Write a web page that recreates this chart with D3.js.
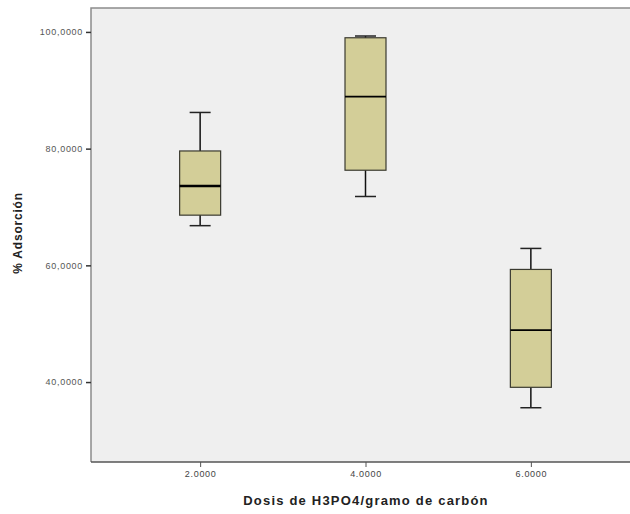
<!DOCTYPE html>
<html>
<head>
<meta charset="utf-8">
<script src="https://cdn.jsdelivr.net/npm/d3@7"></script>
<style>
  body { margin: 0; background: #fff; }
  svg { display: block; font-family: "Liberation Sans", Arial, sans-serif; }
</style>
</head>
<body>
<script>
// dose groups and the five-number summaries
var doses = ['2.0000', '4.0000', '6.0000'];
var mins = [66.8, 71.8, 35.6];
var q1s = [68.6, 76.3, 39.1];
var medians = [73.6, 88.9, 48.9];
var q3s = [79.6, 99.0, 59.3];
var maxs = [86.2, 99.3, 62.9];
var yTicks = [40, 60, 80, 100];

var width = 630,
    height = 514,
    plot = {left: 91, top: 8, right: 640, bottom: 462};

var x = d3.scalePoint().domain(doses).range([plot.left, plot.right]).padding(0.66),
    y = d3.scaleLinear().domain([26.3, 104.1]).range([plot.bottom, plot.top]);

var boxW = 41, capW = 21;

var data = doses.map(function (d, i) {
    return {dose: d, min: mins[i], q1: q1s[i], med: medians[i], q3: q3s[i], max: maxs[i]};
});

var svg = d3.select('body').append('svg')
    .attr('width', width)
    .attr('height', height);

svg.append('rect')
    .attr('x', plot.left)
    .attr('y', plot.top)
    .attr('width', plot.right - plot.left)
    .attr('height', plot.bottom - plot.top)
    .attr('fill', '#efefef');

// frame: top and left lines only as in the picture, bottom via axis
svg.append('path')
    .attr('d', 'M' + plot.left + ',' + plot.bottom + 'V' + plot.top + 'H' + width)
    .attr('fill', 'none')
    .attr('stroke', '#8c8c8c')
    .attr('stroke-width', 1.5);

var axisY = svg.append('g')
    .attr('transform', 'translate(' + plot.left + ',0)')
    .call(d3.axisLeft(y).tickValues(yTicks).tickSize(5).tickPadding(3)
        .tickFormat(function (d) { return d + ',0000'; }));
axisY.select('.domain').remove();
axisY.selectAll('line').attr('stroke', '#333').attr('stroke-width', 1.5);
axisY.selectAll('text').attr('fill', '#555')
    .style('font-size', '9px').style('letter-spacing', '0.7px');

var axisX = svg.append('g')
    .attr('transform', 'translate(0,' + plot.bottom + ')')
    .call(d3.axisBottom(x).tickSize(5).tickPadding(4));
axisX.select('.domain').attr('stroke', '#555').attr('stroke-width', 1.5)
    .attr('d', 'M' + plot.left + ',0H' + width);
axisX.selectAll('line').attr('stroke', '#555');
axisX.selectAll('text').attr('fill', '#444')
    .style('font-size', '9px').style('letter-spacing', '0.7px');

var boxes = svg.append('g').selectAll('g')
    .data(data)
    .enter()
    .append('g')
    .attr('transform', function (d) { return 'translate(' + x(d.dose) + ',0)'; });

// whiskers
boxes.append('line')
    .attr('y1', function (d) { return y(d.max); })
    .attr('y2', function (d) { return y(d.min); })
    .attr('stroke', '#111')
    .attr('stroke-width', 1.5);

boxes.selectAll('.cap')
    .data(function (d) { return [d.max, d.min]; })
    .enter()
    .append('line')
    .attr('class', 'cap')
    .attr('x1', -capW / 2)
    .attr('x2', capW / 2)
    .attr('y1', function (v) { return y(v); })
    .attr('y2', function (v) { return y(v); })
    .attr('stroke', '#222')
    .attr('stroke-width', 1.5);

boxes.append('rect')
    .attr('x', -boxW / 2)
    .attr('width', boxW)
    .attr('y', function (d) { return y(d.q3); })
    .attr('height', function (d) { return y(d.q1) - y(d.q3); })
    .attr('fill', '#d3ce98')
    .attr('stroke', '#3a3a30')
    .attr('stroke-width', 1.2);

boxes.append('line')
    .attr('x1', -boxW / 2)
    .attr('x2', boxW / 2)
    .attr('y1', function (d) { return y(d.med); })
    .attr('y2', function (d) { return y(d.med); })
    .attr('stroke', '#000')
    .attr('stroke-width', function (d, i) { return i == 0 ? 2.5 : 1.8; });

// axis titles
svg.append('text')
    .attr('x', 366)
    .attr('y', 505)
    .attr('text-anchor', 'middle')
    .style('font-size', '13px')
    .style('font-weight', 'bold')
    .style('letter-spacing', '1.2px')
    .attr('fill', '#222')
    .text('Dosis de H3PO4/gramo de carbón');

svg.append('text')
    .attr('transform', 'translate(22,233) rotate(-90)')
    .attr('text-anchor', 'middle')
    .style('font-size', '12px')
    .style('font-weight', 'bold')
    .style('letter-spacing', '0.8px')
    .attr('fill', '#222')
    .text('% Adsorción');
</script>
</body>
</html>
